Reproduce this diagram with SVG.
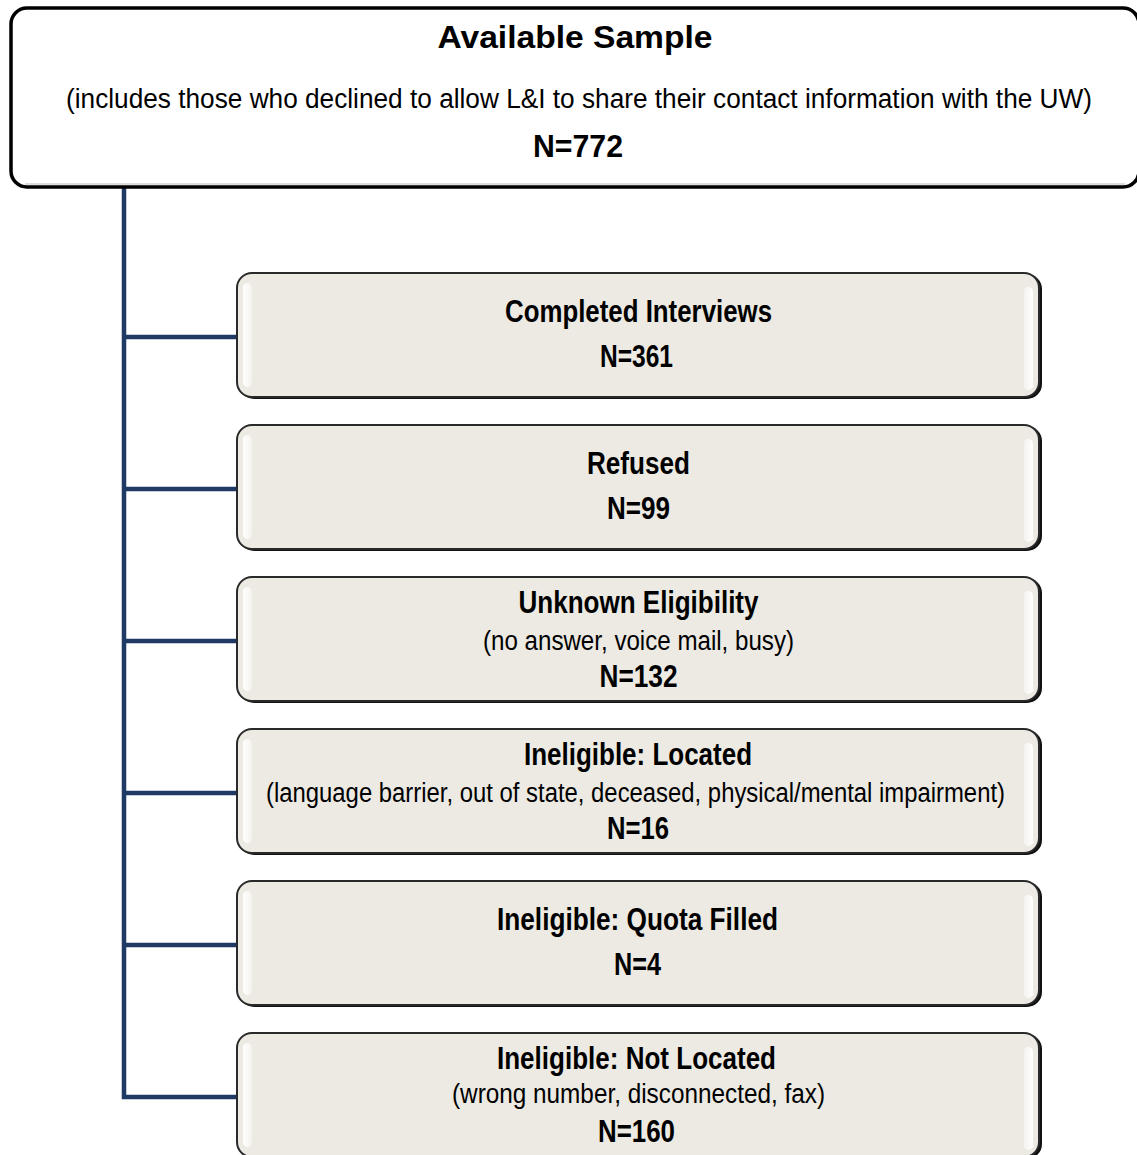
<svg xmlns="http://www.w3.org/2000/svg" width="1137" height="1155" viewBox="0 0 1137 1155">
<defs>
<style>
.t{font-family:"Liberation Sans Narrow","Arial Narrow","Liberation Sans",Arial,sans-serif;fill:#000;text-anchor:middle}
.b{font-weight:bold;font-size:31px}
.s{font-size:27px}
.box{fill:#ECEAE3;stroke:#2a2a2a;stroke-width:2}
.shadow{fill:#111}
.conn{fill:none;stroke:#1F3A64;stroke-width:4.5;stroke-linejoin:miter}
</style>
<linearGradient id="hg" x1="0" y1="0" x2="1" y2="0">
<stop offset="0" stop-color="#fff" stop-opacity="1"/>
<stop offset="1" stop-color="#fff" stop-opacity="0.4"/>
</linearGradient>
<linearGradient id="hg2" x1="1" y1="0" x2="0" y2="0">
<stop offset="0" stop-color="#fff" stop-opacity="1"/>
<stop offset="1" stop-color="#fff" stop-opacity="0.4"/>
</linearGradient>
</defs>
<rect width="1137" height="1155" fill="#fff"/>

<g id="connectors">
<path class="conn" d="M124,186 V1097 H238"/>
<path class="conn" d="M124,337 H238"/>
<path class="conn" d="M124,489 H238"/>
<path class="conn" d="M124,641 H238"/>
<path class="conn" d="M124,793 H238"/>
<path class="conn" d="M124,945 H238"/>
</g>

<g id="available-sample">
<rect x="11" y="8" width="1128" height="179" rx="16" fill="#fff" stroke="#000" stroke-width="3.5"/>
<line x1="25" y1="184" x2="1125" y2="184" stroke="#bbb" stroke-width="1"/>
<text class="t" x="575" y="48" font-weight="bold" font-size="32" textLength="275" lengthAdjust="spacingAndGlyphs">Available Sample</text>
<text class="t s" x="579" y="108" textLength="1026" lengthAdjust="spacingAndGlyphs">(includes those who declined to allow L&amp;I to share their contact information with the UW)</text>
<text class="t b" x="578" y="157" textLength="90" lengthAdjust="spacingAndGlyphs">N=772</text>
</g>

<g id="completed">
<rect class="shadow" x="239" y="274" width="803" height="125" rx="15"/>
<rect class="box" x="237" y="273" width="802" height="124" rx="15"/>
<rect x="243" y="283" width="9" height="104" rx="4.5" fill="url(#hg)"/>
<rect x="1024" y="287" width="9" height="103" rx="4.5" fill="url(#hg2)"/>
<text class="t b" x="638.5" y="322" textLength="267" lengthAdjust="spacingAndGlyphs">Completed Interviews</text>
<text class="t b" x="636.5" y="367" textLength="73" lengthAdjust="spacingAndGlyphs">N=361</text>
</g>

<g id="refused">
<rect class="shadow" x="239" y="426" width="803" height="125" rx="15"/>
<rect class="box" x="237" y="425" width="802" height="124" rx="15"/>
<rect x="243" y="435" width="9" height="104" rx="4.5" fill="url(#hg)"/>
<rect x="1024" y="439" width="9" height="103" rx="4.5" fill="url(#hg2)"/>
<text class="t b" x="638.5" y="474" textLength="103" lengthAdjust="spacingAndGlyphs">Refused</text>
<text class="t b" x="638.5" y="519" textLength="63" lengthAdjust="spacingAndGlyphs">N=99</text>
</g>

<g id="unknown">
<rect class="shadow" x="239" y="578" width="803" height="125" rx="15"/>
<rect class="box" x="237" y="577" width="802" height="124" rx="15"/>
<rect x="243" y="587" width="9" height="104" rx="4.5" fill="url(#hg)"/>
<rect x="1024" y="591" width="9" height="103" rx="4.5" fill="url(#hg2)"/>
<text class="t b" x="638.5" y="613" textLength="240" lengthAdjust="spacingAndGlyphs">Unknown Eligibility</text>
<text class="t s" x="638.5" y="650" textLength="311" lengthAdjust="spacingAndGlyphs">(no answer, voice mail, busy)</text>
<text class="t b" x="638.5" y="687" textLength="78" lengthAdjust="spacingAndGlyphs">N=132</text>
</g>

<g id="inelig-located">
<rect class="shadow" x="239" y="730" width="803" height="125" rx="15"/>
<rect class="box" x="237" y="729" width="802" height="124" rx="15"/>
<rect x="243" y="739" width="9" height="104" rx="4.5" fill="url(#hg)"/>
<rect x="1024" y="743" width="9" height="103" rx="4.5" fill="url(#hg2)"/>
<text class="t b" x="638" y="765" textLength="228" lengthAdjust="spacingAndGlyphs">Ineligible: Located</text>
<text class="t s" x="635.5" y="802" textLength="739" lengthAdjust="spacingAndGlyphs">(language barrier, out of state, deceased, physical/mental impairment)</text>
<text class="t b" x="638" y="839" textLength="62" lengthAdjust="spacingAndGlyphs">N=16</text>
</g>

<g id="inelig-quota">
<rect class="shadow" x="239" y="882" width="803" height="125" rx="15"/>
<rect class="box" x="237" y="881" width="802" height="124" rx="15"/>
<rect x="243" y="891" width="9" height="104" rx="4.5" fill="url(#hg)"/>
<rect x="1024" y="895" width="9" height="103" rx="4.5" fill="url(#hg2)"/>
<text class="t b" x="637.5" y="930" textLength="281" lengthAdjust="spacingAndGlyphs">Ineligible: Quota Filled</text>
<text class="t b" x="637.5" y="975" textLength="47" lengthAdjust="spacingAndGlyphs">N=4</text>
</g>

<g id="inelig-not-located">
<rect class="shadow" x="239" y="1034" width="803" height="125" rx="15"/>
<rect class="box" x="237" y="1033" width="802" height="124" rx="15"/>
<rect x="243" y="1043" width="9" height="104" rx="4.5" fill="url(#hg)"/>
<rect x="1024" y="1047" width="9" height="103" rx="4.5" fill="url(#hg2)"/>
<text class="t b" x="636.5" y="1069" textLength="279" lengthAdjust="spacingAndGlyphs">Ineligible: Not Located</text>
<text class="t s" x="638.5" y="1103" textLength="373" lengthAdjust="spacingAndGlyphs">(wrong number, disconnected, fax)</text>
<text class="t b" x="636.5" y="1142" textLength="77" lengthAdjust="spacingAndGlyphs">N=160</text>
</g>
</svg>
